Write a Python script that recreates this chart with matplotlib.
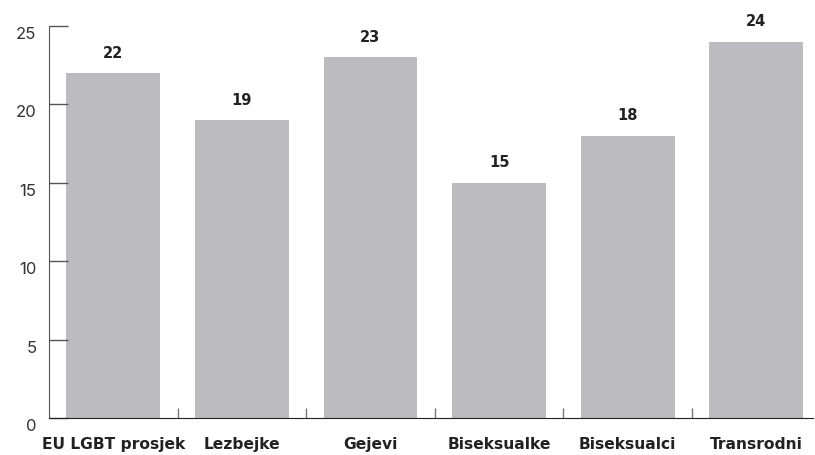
import matplotlib.pyplot as plt
import numpy as np

plt.rcParams['font.family'] = ['Inter', 'DejaVu Sans']

categories = ["EU LGBT prosjek", "Lezbejke", "Gejevi", "Biseksualke", "Biseksualci", "Transrodni"]
values = [22, 19, 23, 15, 18, 24]
yticks = [0, 5, 10, 15, 20, 25]

fig = plt.figure(figsize=(8.15, 4.56), dpi=100)
ax = fig.add_axes([0.060, 0.081, 0.9375, 0.860])

x = np.arange(len(categories))
ax.bar(x, values, width=0.73, color="#bcbcc0")

for xi, v in zip(x, values):
    ax.annotate(str(v), (xi, v), xytext=(0, 15), textcoords="offset points",
                ha="center", va="center", fontsize=10.5, fontweight="bold", color="#222222",
                family="DejaVu Sans")

ax.set_xlim(-0.5, 5.44)
ax.set_ylim(0, 25)
ax.set_yticks(yticks)
ax.set_yticklabels([str(t) for t in yticks], fontsize=12, color="#333333", va="top")
ax.set_xticks(x)
ax.set_xticklabels(categories, fontsize=11.2, fontweight="bold", color="#222222",
                   family="DejaVu Sans")
ax.set_xticks(x[:-1] + 0.5, minor=True)

for s in ["top", "right"]:
    ax.spines[s].set_visible(False)
ax.spines["left"].set_color("#555555")
ax.spines["bottom"].set_color("#222222")

ax.tick_params(axis="y", direction="in", length=14, width=1, color="#555555", pad=9)
ax.tick_params(axis="x", which="major", length=0, pad=13)
ax.tick_params(axis="x", which="minor", direction="in", length=7, width=1, color="#777777")

fig.savefig("out.png", dpi=100)
